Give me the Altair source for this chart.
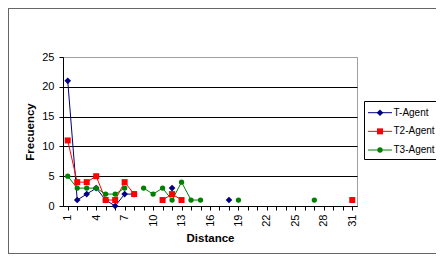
import altair as alt
import pandas as pd

# ---- data ----
distances = list(range(1, 32))
series_names = ["T-Agent", "T2-Agent", "T3-Agent"]
series_colors = ["#000080", "#FF0000", "#008000"]
series_shapes = ["diamond", "square", "circle"]
series_sizes = [44, 28, 36]

t_agent = {1: 21, 2: 1, 3: 2, 4: 3, 5: 1, 6: 0, 7: 2, 8: 2, 12: 3, 18: 1}
t2_agent = {1: 11, 2: 4, 3: 4, 4: 5, 5: 1, 6: 1, 7: 4, 8: 2, 11: 1, 12: 2, 13: 1, 31: 1}
t3_agent = {1: 5, 2: 3, 3: 3, 4: 3, 5: 2, 6: 2, 7: 3, 9: 3, 10: 2, 11: 3, 12: 1,
            13: 4, 14: 1, 15: 1, 19: 1, 27: 1}

y_ticks = [0, 5, 10, 15, 20, 25]

# ---- long table; lines break where Excel had empty cells ----
rows = []
for name, vals in zip(series_names, [t_agent, t2_agent, t3_agent]):
    run = 0
    prev_present = False
    for d in distances:
        if d in vals:
            if not prev_present:
                run += 1
            rows.append({"distance": d, "value": vals[d], "series": name,
                         "run": f"{name}-{run}"})
            prev_present = True
        else:
            prev_present = False
df = pd.DataFrame(rows)
legend_df = pd.DataFrame({"series": series_names})
frame_df = pd.DataFrame({"k": [0]})

FONT = "Liberation Sans"

color = alt.Color("series:N", scale=alt.Scale(domain=series_names, range=series_colors), legend=None)
shape = alt.Shape("series:N", scale=alt.Scale(domain=series_names, range=series_shapes), legend=None)
size = alt.Size("series:N", scale=alt.Scale(domain=series_names, range=series_sizes), legend=None)

x = alt.X(
    "distance:Q",
    scale=alt.Scale(domain=[0.5, 31.5], nice=False, zero=False),
    axis=alt.Axis(
        values=distances,
        labelExpr="(datum.value - 1) % 3 == 0 ? datum.label : ''",
        labelAngle=270,
        labelAlign="right",
        labelBaseline="middle",
        labelOverlap=False,
        labelFlush=False,
        title="Distance",
        grid=False,
        tickSize=4,
        labelPadding=4,
        titlePadding=6,
    ),
)
y_scale = alt.Scale(domain=[0, 25], nice=False)
y = alt.Y(
    "value:Q",
    scale=y_scale,
    axis=alt.Axis(
        values=y_ticks,
        title="Frecuency",
        grid=True,
        gridColor={"condition": {"test": "datum.value === 25", "value": "#a0a0a0"}, "value": "#000000"},
        tickSize=4,
        labelPadding=5,
        titlePadding=6,
    ),
)

lines = alt.Chart(df).mark_line(strokeWidth=1).encode(
    x=x, y=y, color=color, detail="run:N"
)
points = alt.Chart(df).mark_point(filled=True, opacity=1).encode(
    x=x, y=y, color=color, shape=shape, size=size
)
main = alt.layer(lines, points)

# ---- legend box drawn as marks ----
ly = alt.Y("series:N", scale=alt.Scale(type="point", domain=series_names, range=[55.7, 93], padding=0), axis=None)
legend_box = alt.Chart(frame_df).mark_rect(fill="white", stroke="black", strokeWidth=1).encode(
    x=alt.value(301.5), x2=alt.value(420), y=alt.value(44.5), y2=alt.value(102.5)
)
legend_rule = alt.Chart(legend_df).mark_rule(strokeWidth=1).encode(
    x=alt.value(305), x2=alt.value(329), y=ly, color=color
)
legend_pt = alt.Chart(legend_df).mark_point(filled=True, opacity=1).encode(
    x=alt.value(317), y=ly, color=color, shape=shape, size=size
)
legend_txt = alt.Chart(legend_df).mark_text(align="left", baseline="middle", fontSize=10, font=FONT, color="black").encode(
    x=alt.value(330.5), y=ly, text="series:N"
)

# ---- outer chart frame (clipped to the visible page) ----
frame_left = alt.Chart(frame_df).mark_rule(color="#666666", strokeWidth=1).encode(
    x=alt.value(-54.5), y=alt.value(-49), y2=alt.value(200)
)
frame_bottom = alt.Chart(frame_df).mark_rule(color="#666666", strokeWidth=1).encode(
    x=alt.value(-55), x2=alt.value(400), y=alt.value(196.5)
)
frame_top = alt.Chart(frame_df).mark_rule(color="#666666", strokeWidth=1).encode(
    x=alt.value(-55), x2=alt.value(400), y=alt.value(-48.5)
)
legend = alt.layer(legend_box, legend_rule, legend_pt, legend_txt,
                   frame_left, frame_bottom, frame_top)

chart = alt.layer(main, legend).resolve_scale(y="independent").properties(
    width=294,
    height=149,
    autosize=alt.AutoSizeParams(type="none"),
    padding={"left": 55, "top": 49, "right": 79, "bottom": 48},
    background="white",
).configure_view(
    stroke="#a0a0a0", strokeWidth=1
).configure_axis(
    labelFont=FONT, titleFont=FONT, labelFontSize=11, titleFontSize=11.5,
    titleFontWeight="bold", labelColor="black", titleColor="black",
    domainColor="black", tickColor="black", gridWidth=1,
)

chart.save("out.html", embed_options={"renderer": "svg", "actions": False})
